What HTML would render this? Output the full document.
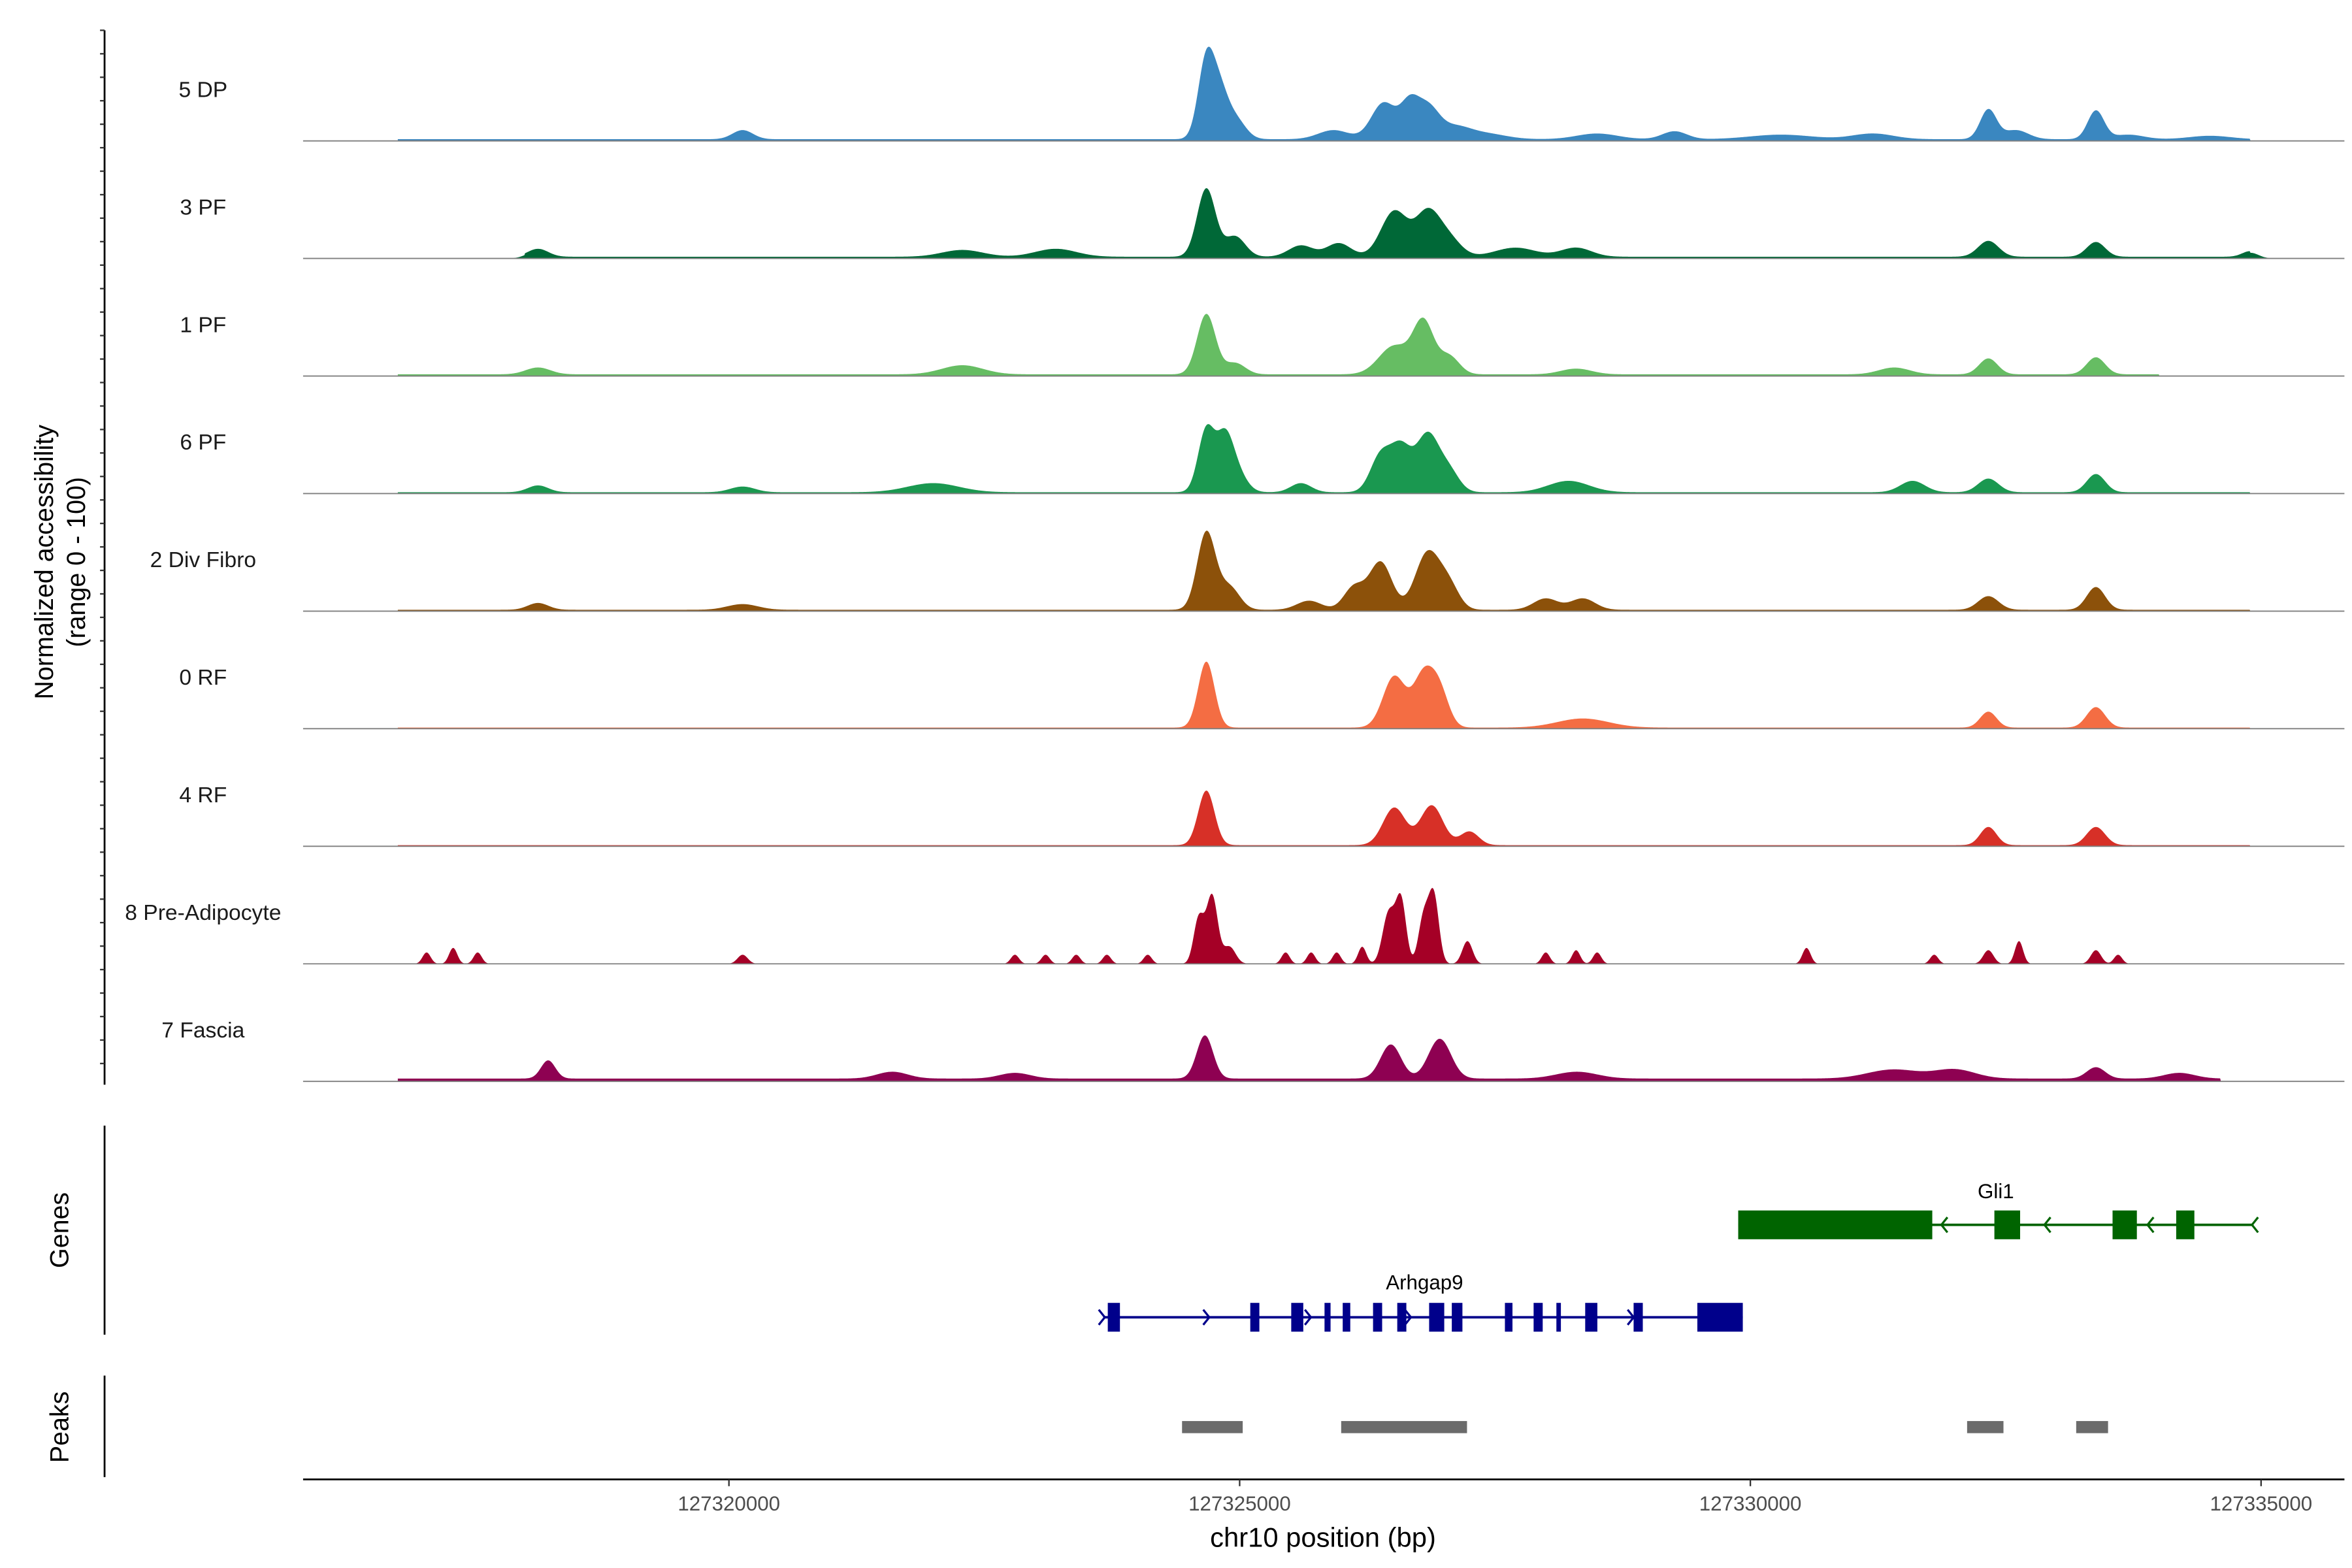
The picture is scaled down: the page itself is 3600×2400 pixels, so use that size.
<!DOCTYPE html>
<html><head><meta charset="utf-8"><style>
html,body{margin:0;padding:0;background:#fff}
svg{display:block;font-family:"Liberation Sans",Arial,sans-serif}
</style></head><body>
<svg id="chart" xmlns="http://www.w3.org/2000/svg" width="3600" height="2400" viewBox="0 0 1552 1035" preserveAspectRatio="none">
<rect width="1552" height="1035" fill="#fff"/>
<g id="tracks"></g>
<g id="genes"></g>
<g id="peaks"></g>
<g id="axes"></g>
</svg>
<script>
// ---- data ----
const trackNames = ["5 DP","3 PF","1 PF","6 PF","2 Div Fibro","0 RF","4 RF","8 Pre-Adipocyte","7 Fascia"];
const trackColors = ["#3a87c0","#006837","#66bd63","#1a9850","#8c510a","#f46d43","#d73027","#a50026","#8e0152"];
// peaks: [center bp, height (0-100), sigma bp]
const peaks5DP = [[127320134,8,100],[127324674,70,80],[127324807,35,80],[127324955,18,100],[127325920,8,150],[127326410,32,120],[127326662,28,90],[127326840,27,110],[127327100,10,150],[127327400,5,200],[127328500,5,200],[127329258,7,120],[127330300,4,300],[127331200,5,200],[127332330,26,80],[127332600,8,120],[127333383,25,80],[127333700,4,150],[127334500,3,200]];
const peaks3PF = [[127318131,7,100],[127322285,6,200],[127323200,7,200],[127324674,60,90],[127324955,18,100],[127325600,10,120],[127325970,12,120],[127326514,40,130],[127326840,38,120],[127327050,15,120],[127327700,8,200],[127328294,8,150],[127332330,14,100],[127333383,13,90],[127334896,5,80]];
const peaks1PF = [[127318131,6,120],[127322285,8,200],[127324674,53,90],[127324955,10,100],[127326514,25,150],[127326800,45,100],[127327050,16,100],[127328294,5,150],[127331409,6,150],[127332330,14,90],[127333383,15,90]];
const peaks6PF = [[127318131,6,100],[127320134,5,120],[127322000,8,250],[127324674,55,80],[127324850,40,80],[127324955,20,100],[127325600,8,100],[127326380,32,100],[127326580,38,100],[127326840,50,110],[127327050,18,100],[127328220,10,200],[127331588,10,120],[127332330,12,100],[127333383,16,90]];
const peaks2Div = [[127318131,6,100],[127320134,5,150],[127324674,68,90],[127324900,20,100],[127325680,8,120],[127326120,20,100],[127326380,42,110],[127326840,50,120],[127327050,20,100],[127327997,10,120],[127328360,10,120],[127332330,12,100],[127333383,20,90]];
const peaks0RF = [[127324674,58,80],[127326514,45,110],[127326800,45,100],[127326959,30,90],[127328360,8,250],[127332330,14,80],[127333383,18,90]];
const peaks4RF = [[127324674,48,80],[127326514,33,110],[127326880,35,110],[127327250,12,90],[127332330,16,80],[127333383,16,90]];
const peaksPre = [[127317040,10,40],[127317300,14,40],[127317540,10,40],[127320134,8,50],[127322800,8,40],[127323100,8,40],[127323400,8,40],[127323700,8,40],[127324100,8,40],[127324600,40,50],[127324730,60,55],[127324900,15,60],[127325450,10,40],[127325700,10,40],[127325950,10,40],[127326200,15,40],[127326460,45,60],[127326580,55,50],[127326800,40,50],[127326900,60,50],[127327230,20,50],[127327997,10,40],[127328294,12,40],[127328500,10,40],[127330550,14,40],[127331800,8,40],[127332330,12,50],[127332630,20,40],[127333383,12,50],[127333600,8,40]];
const peaksFascia = [[127318230,16,70],[127321600,6,150],[127322800,5,150],[127324660,38,80],[127326480,30,100],[127326959,35,110],[127328300,6,200],[127331400,8,250],[127332000,8,200],[127333383,10,90],[127334200,5,150]];
const trackPeaks = [peaks5DP,peaks3PF,peaks1PF,peaks6PF,peaks2Div,peaks0RF,peaks4RF,peaksPre,peaksFascia];
// background accessibility [start bp, end bp, level]
const trackBackground = [[127316751,127334896,1.5],[127318000,127334896,1.5],[127316751,127334000,1.5],[127316751,127334896,1.2],[127316751,127334896,1.2],[127316751,127334896,1.0],[127316751,127334896,1.0],[0,0,0],[127316751,127334600,2.5]];
const xTicks = [127320000,127325000,127330000,127335000];
const gli1Gene = {name:"Gli1", start:127329881, end:127334926, strand:"-"};
const gli1Exons = [[127329881,127331781],[127332389,127332641],[127333546,127333784],[127334169,127334347]];
const gli1Arrows = [127331885,127332894,127333903,127334926];
const arhgap9Gene = {name:"Arhgap9", start:127323665, end:127329926, strand:"+"};
const arhgap9Exons = [[127323709,127323828],[127325104,127325193],[127325505,127325623],[127325831,127325890],[127326009,127326083],[127326306,127326395],[127326543,127326632],[127326855,127327003],[127327077,127327181],[127327597,127327671],[127327878,127327967],[127328101,127328145],[127328383,127328502],[127328857,127328947],[127329481,127329926]];
const arhgap9Arrows = [127323665,127324688,127325683,127326662,127328843];
const peakRegions = [[127324436,127325030],[127325994,127327226],[127332122,127332478],[127333190,127333502]];

// ---- scales ----
const NS="http://www.w3.org/2000/svg";
const X0=200, X1=1547;
function xs(bp){return 481+(bp-127320000)*337/5000;}
function xinv(px){return 127320000+(px-481)*5000/337;}
const trackStep=77.6, unit=0.75;
function mk(tag,attrs,parent){const e=document.createElementNS(NS,tag);for(const k in attrs)e.setAttribute(k,attrs[k]);parent.appendChild(e);return e;}

const gT=document.getElementById('tracks');
trackNames.forEach((name,i)=>{
  const base=93+i*trackStep;
  const g=mk('g',{},gT);
  
  
  const bg=trackBackground[i];
  let d='';let open=false;
  for(let px=X0;px<=X1;px+=0.5){
    const bp=xinv(px);
    let v=0;
    for(const p of trackPeaks[i]){const z=(bp-p[0])/p[2];if(Math.abs(z)<4)v+=p[1]*Math.exp(-0.5*z*z);}
    if(bp>=bg[0]&&bp<=bg[1])v+=bg[2];
    if(v>0.4){
      const y=base-v*unit;
      if(!open){d+=`M${px},${base}L${px},${y.toFixed(2)}`;open=true;}
      else d+=`L${px},${y.toFixed(2)}`;
    }else if(open){d+=`L${px},${base}Z`;open=false;}
  }
  if(open)d+=`L${X1},${base}Z`;
  const area=mk('path',{d:d,fill:trackColors[i]},g);
  
  
  const bl=mk('line',{x1:X0,x2:X1,y1:base,y2:base,stroke:'#7f7f7f','stroke-width':0.8},g);
  
  
  const t=mk('text',{x:134,y:base-29,'text-anchor':'middle','font-size':14.5,fill:'#1a1a1a'},g);
  t.textContent=name;
  
  
});

// ---- genes ----
const gG=document.getElementById('genes');
function drawGene(gene,exons,arrows,y,col,labelY){
  const g=mk('g',{},gG);
  
  
  mk('line',{x1:xs(gene.start),x2:xs(gene.end),y1:y,y2:y,stroke:col,'stroke-width':1.6},g);
  exons.forEach(e=>{
    const r=mk('rect',{x:xs(e[0]),y:y-9.5,width:Math.max(xs(e[1])-xs(e[0]),2.5),height:19,fill:col},g);
    
    
  });
  arrows.forEach(a=>{
    const x=xs(a);const s=gene.strand==='+'?1:-1;
    mk('path',{d:`M${x-3*s},${y-5}L${x+1*s},${y}L${x-3*s},${y+5}`,fill:'none',stroke:col,'stroke-width':1.4},g);
  });
  const t=mk('text',{x:(xs(gene.start)+xs(gene.end))/2,y:labelY,'text-anchor':'middle','font-size':13.5,fill:'#000'},g);
  t.textContent=gene.name;
  
  
}
drawGene(gli1Gene,gli1Exons,gli1Arrows,808.5,'#006400',791);
drawGene(arhgap9Gene,arhgap9Exons,arhgap9Arrows,869.5,'#00008b',851);
gG.querySelectorAll('text')[0].setAttribute('x',1317);
gG.querySelectorAll('text')[1].setAttribute('x',940);

// ---- peaks ----
const gP=document.getElementById('peaks');
peakRegions.forEach(p=>{
  const r=mk('rect',{x:xs(p[0]),y:938,width:xs(p[1])-xs(p[0]),height:8,fill:'#6b6b6b'},gP);
  
  
});

// ---- axes ----
const gA=document.getElementById('axes');
function ln(x1,y1,x2,y2,w,name){const l=mk('line',{x1,y1,x2,y2,stroke:'#000','stroke-width':w},gA);return l;}
ln(69,20,69,716,1.2,'y-axis-line');
for(let y=20;y<=716;y+=15.5){mk('line',{x1:66,x2:69,y1:y,y2:y,stroke:'#333','stroke-width':1},gA);}
ln(69,743,69,881,1.2,'genes-axis-line');
ln(69,908,69,975,1.2,'peaks-axis-line');
ln(200,976.5,1547,976.5,1.2,'x-axis-line');
xTicks.forEach(t=>{
  const x=xs(t);
  mk('line',{x1:x,x2:x,y1:976.5,y2:981,stroke:'#333','stroke-width':1},gA);
  const tx=mk('text',{x:x,y:997,'text-anchor':'middle','font-size':13.5,fill:'#4d4d4d'},gA);
  tx.textContent=String(t);
  
  
});
function lab(txt,x,y,size,rot,name){const t=mk('text',{x,y,'text-anchor':'middle','font-size':size,fill:'#000'},gA);if(rot)t.setAttribute('transform',`rotate(-90 ${x} ${y})`);t.textContent=txt;}
lab('chr10 position (bp)',873,1021,18,false,'x-axis-title');
lab('Normalized accessibility',35,371,17,true,'y-axis-title');
lab('(range 0 - 100)',56,371,17,true,'y-axis-subtitle');
lab('Genes',45,812,17,true,'genes-axis-title');
lab('Peaks',45,942,17,true,'peaks-axis-title');
</script>
</body></html>
